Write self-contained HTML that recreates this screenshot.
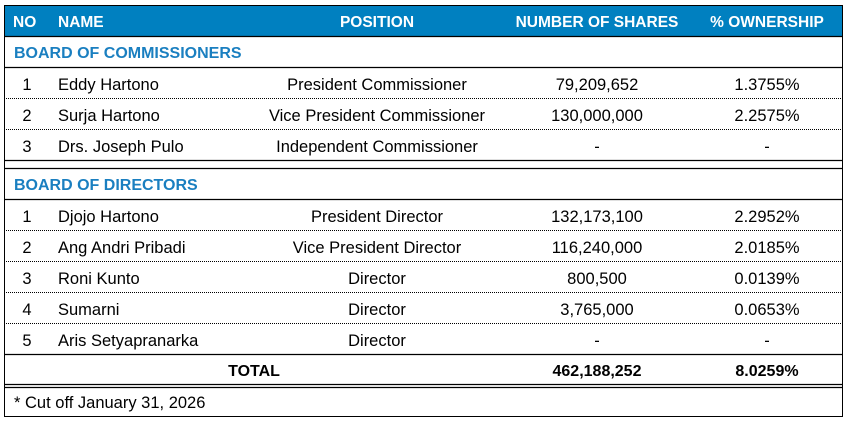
<!DOCTYPE html>
<html><head><meta charset="utf-8"><style>
html,body{margin:0;padding:0;background:#fff;width:848px;height:422px;overflow:hidden}
svg{display:block}
text{font-family:"Liberation Sans",sans-serif;font-size:16.5px;fill:#000}
.h{fill:#fff;font-weight:bold;font-size:15.5px}
.s{fill:#1a7fc0;font-weight:bold;font-size:16px}
.b{font-weight:bold;font-size:16px}
</style></head><body>
<svg width="848" height="422" xmlns="http://www.w3.org/2000/svg">
<rect x="4.5" y="5.5" width="838" height="411" fill="#fff" stroke="#000" stroke-width="1"/>
<rect x="5" y="6" width="837" height="30" fill="#0080c0"/>
<g stroke="#000" stroke-width="1.3">
<line x1="4" y1="36.5" x2="843" y2="36.5"/>
<line x1="4" y1="67.5" x2="843" y2="67.5"/>
<line x1="4" y1="160.5" x2="843" y2="160.5"/>
<line x1="4" y1="168.5" x2="843" y2="168.5"/>
<line x1="4" y1="199.5" x2="843" y2="199.5"/>
<line x1="4" y1="354.5" x2="843" y2="354.5"/>
<line x1="4" y1="384.5" x2="843" y2="384.5"/>
<line x1="4" y1="387.5" x2="843" y2="387.5"/>
</g>
<g stroke="#000" stroke-width="1" stroke-dasharray="1,1">
<line x1="4" y1="98.5" x2="843" y2="98.5"/>
<line x1="4" y1="129.5" x2="843" y2="129.5"/>
<line x1="4" y1="230.5" x2="843" y2="230.5"/>
<line x1="4" y1="261.5" x2="843" y2="261.5"/>
<line x1="4" y1="292.5" x2="843" y2="292.5"/>
<line x1="4" y1="323.5" x2="843" y2="323.5"/>
</g>
<text class="h" x="13" y="27">NO</text>
<text class="h" x="58" y="27">NAME</text>
<text class="h" x="377" y="27" text-anchor="middle">POSITION</text>
<text class="h" x="597" y="27" text-anchor="middle">NUMBER OF SHARES</text>
<text class="h" x="767" y="27" text-anchor="middle">% OWNERSHIP</text>
<text class="s" x="14" y="58">BOARD OF COMMISSIONERS</text>
<text class="s" x="14" y="190">BOARD OF DIRECTORS</text>
<g text-anchor="middle">
<text x="27" y="90">1</text><text x="27" y="121">2</text><text x="27" y="152">3</text>
<text x="27" y="222">1</text><text x="27" y="253">2</text><text x="27" y="284">3</text><text x="27" y="315">4</text><text x="27" y="346">5</text>
<text x="377" y="90">President Commissioner</text>
<text x="377" y="121">Vice President Commissioner</text>
<text x="377" y="152">Independent Commissioner</text>
<text x="377" y="222">President Director</text>
<text x="377" y="253">Vice President Director</text>
<text x="377" y="284">Director</text>
<text x="377" y="315">Director</text>
<text x="377" y="346">Director</text>
<text x="597" y="90">79,209,652</text>
<text x="597" y="121">130,000,000</text>
<text x="597" y="152">-</text>
<text x="597" y="222">132,173,100</text>
<text x="597" y="253">116,240,000</text>
<text x="597" y="284">800,500</text>
<text x="597" y="315">3,765,000</text>
<text x="597" y="346">-</text>
<text x="767" y="90">1.3755%</text>
<text x="767" y="121">2.2575%</text>
<text x="767" y="152">-</text>
<text x="767" y="222">2.2952%</text>
<text x="767" y="253">2.0185%</text>
<text x="767" y="284">0.0139%</text>
<text x="767" y="315">0.0653%</text>
<text x="767" y="346">-</text>
<text class="b" x="254" y="376">TOTAL</text>
<text class="b" x="597" y="376">462,188,252</text>
<text class="b" x="767" y="376">8.0259%</text>
</g>
<text x="58" y="90">Eddy Hartono</text>
<text x="58" y="121">Surja Hartono</text>
<text x="58" y="152">Drs. Joseph Pulo</text>
<text x="58" y="222">Djojo Hartono</text>
<text x="58" y="253">Ang Andri Pribadi</text>
<text x="58" y="284">Roni Kunto</text>
<text x="58" y="315">Sumarni</text>
<text x="58" y="346">Aris Setyapranarka</text>
<text x="14" y="408">* Cut off January 31, 2026</text>
</svg>
</body></html>
